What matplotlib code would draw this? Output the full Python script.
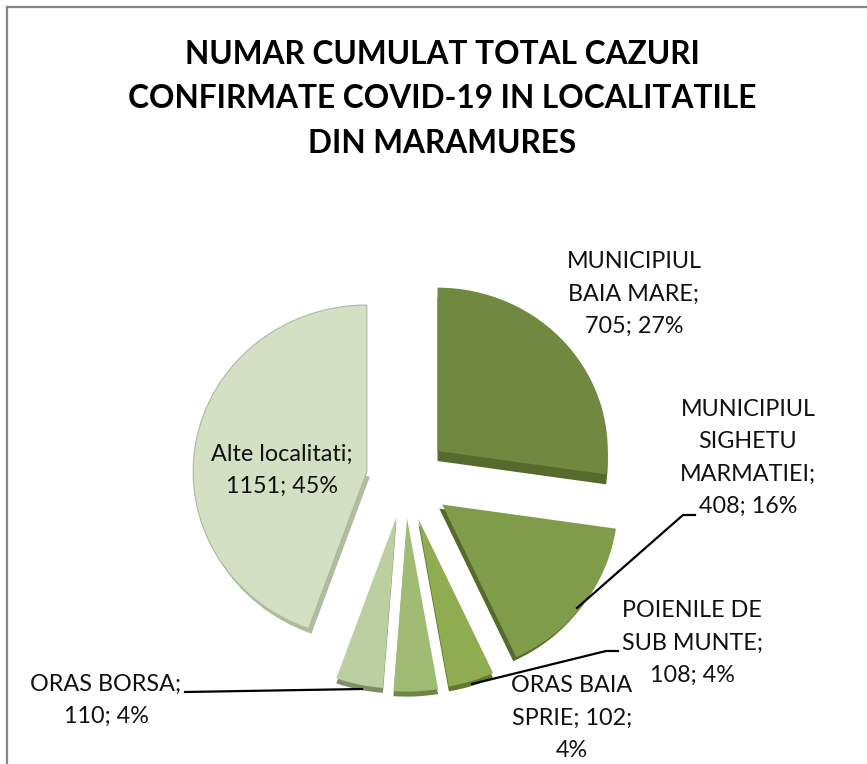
import matplotlib
matplotlib.use("Agg")
import matplotlib.pyplot as plt
from matplotlib.lines import Line2D

W, H = 867, 764
categories = ["MUNICIPIUL\nBAIA MARE", "MUNICIPIUL\nSIGHETU\nMARMATIEI", "POIENILE DE\nSUB MUNTE",
              "ORAS BAIA\nSPRIE", "ORAS BORSA", "Alte localitati"]
values = [705, 408, 108, 102, 110, 1151]
label_texts = ["MUNICIPIUL\nBAIA MARE;\n705; 27%", "MUNICIPIUL\nSIGHETU\nMARMATIEI;\n408; 16%",
               "POIENILE DE\nSUB MUNTE;\n108; 4%", "ORAS BAIA\nSPRIE; 102;\n4%", "ORAS BORSA;\n110; 4%",
               "Alte localitati;\n1151; 45%"]
colors = ["#70883F", "#7F9C4A", "#8FAD50", "#A0BC74", "#BCCFA0", "#D4E0C4"]
side_colors = ["#566A2E", "#556B2C", "#64792F", "#6F8545", "#7E8F68", "#B0BC9E"]
explode = [0.25, 0.27, 0.26, 0.245, 0.24, 0.225]
radii = [0.99, 1.02, 1.03, 1.05, 1.04, 1.01]
depths = [10, 4, 5, 5, 5, 5]
xshifts = [0, -3, 0, 0, 0, 3]
title = "NUMAR CUMULAT TOTAL CAZURI\nCONFIRMATE COVID-19 IN LOCALITATILE\nDIN MARAMURES"

CX, CY, SX, SY = 405, 478, 172, 165
plt.rcParams["font.family"] = ["Lato", "DejaVu Sans"]
fig = plt.figure(figsize=(W / 100, H / 100), dpi=100)
ax = fig.add_axes([0, 0, 1, 1])


def draw(k, cols, z):
    wedges, _ = ax.pie(values, explode=explode, colors=cols, startangle=90, counterclock=False,
                       wedgeprops={"linewidth": 0})
    for w, r, d, s in zip(wedges, radii, depths, xshifts):
        w.set_radius(r)
        x, y = w.center
        w.set_center((x + k * s / SX, y - k * d / SY))
        w.set_zorder(z)
    return wedges


sides = draw(1, side_colors, 2)
sides[-1].set_theta1(170)
tops = draw(0, colors, 3)
tops[-1].set_edgecolor("#AEB9A0")
tops[-1].set_linewidth(0.8)
ax.set_aspect("auto")
ax.set_xlim(-CX / SX, (W - CX) / SX)
ax.set_ylim((CY - H) / SY, CY / SY)
ax.axis("off")

for xs, ys in [([7, 7], [H + 2, 7]), ([7, W + 2], [7, 7])]:
    fig.add_artist(Line2D([x / W for x in xs], [1 - y / H for y in ys], color="#868686", lw=1.6,
                          transform=fig.transFigure))


def put(px, py, s, **kw):
    fig.text(px / W, 1 - py / H, s, ha="center", va="center", **kw)


put(442, 99, title, fontsize=22.8, fontweight="bold", color="#000000", linespacing=1.66)
pos = [(634, 294), (748, 458), (692, 643), (572, 718), (106, 700), (282, 470)]
for (x, y), t in zip(pos, label_texts):
    put(x, y, t, fontsize=16.8, color="#111111", linespacing=1.66, zorder=6)

leaders = [([577, 683, 695], [608, 515, 515]), ([472, 606, 618], [684, 651, 651]),
           ([362, 185], [689, 692])]
for xs, ys in leaders:
    fig.add_artist(Line2D([x / W for x in xs], [1 - y / H for y in ys], color="black", lw=1.6,
                          transform=fig.transFigure))
fig.savefig("out.png", dpi=100)
